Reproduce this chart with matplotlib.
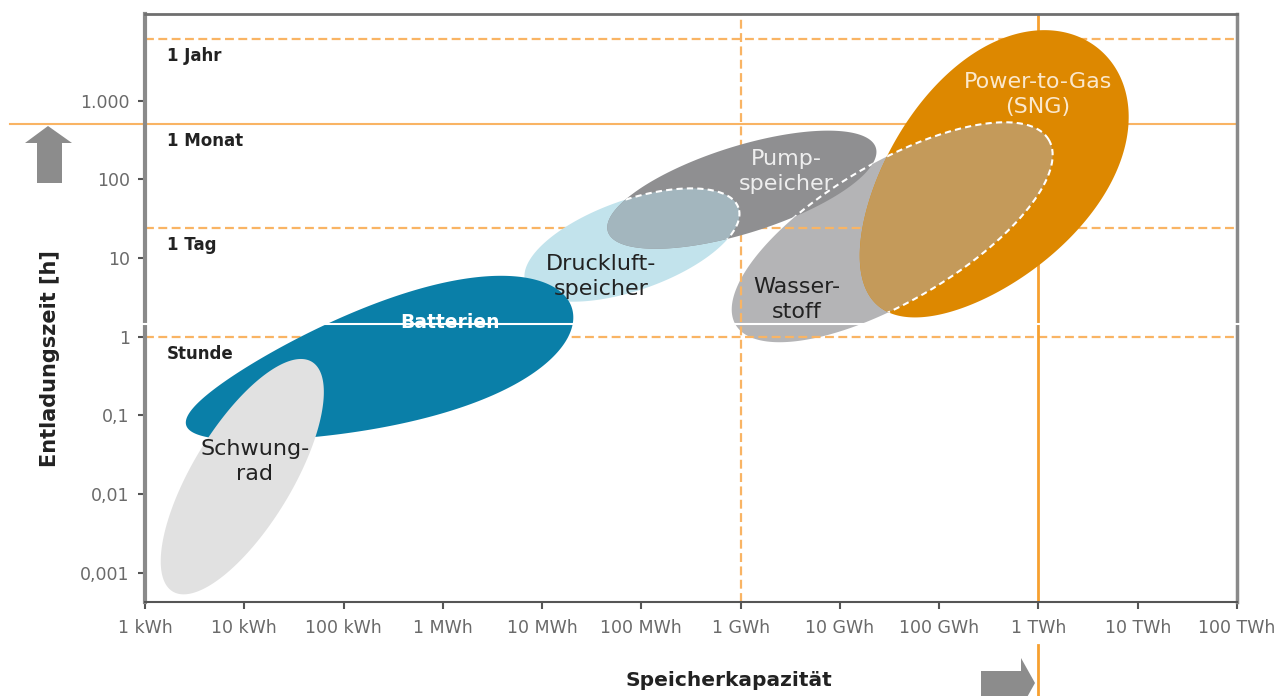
import numpy as np
import matplotlib.pyplot as plt
from matplotlib.patches import Polygon

# Achsen: Speicherkapazität in kWh, Entladungszeit in h
kap_ticks = [1, 1e1, 1e2, 1e3, 1e4, 1e5, 1e6, 1e7, 1e8, 1e9, 1e10, 1e11]
kap_labels = ["1 kWh", "10 kWh", "100 kWh", "1 MWh", "10 MWh", "100 MWh",
              "1 GWh", "10 GWh", "100 GWh", "1 TWh", "10 TWh", "100 TWh"]
zeit_ticks = [0.001, 0.01, 0.1, 1, 10, 100, 1000]
zeit_labels = ["0,001", "0,01", "0,1", "1", "10", "100", "1.000"]

# Zeitmarken (horizontale Hilfslinien)
marken_namen = ["1 Jahr", "1 Monat", "1 Tag", "Stunde"]
marken_h = [6000, 510, 24, 1]
marken_stil = ["--", "-", "--", "--"]

# Speichertechnologien: Hauptachse von (kap_von, h_von) bis (kap_bis, h_bis)
speicher = ["Schwungrad", "Batterien", "Druckluftspeicher",
            "Pumpspeicher", "Wasserstoff", "Power-to-Gas"]
kap_von = [1.9, 2.6, 6.8e3, 4.6e4, 8.9e5, 2.4e7]
kap_bis = [48, 2.0e4, 9.5e5, 2.3e7, 1.27e9, 4.2e9]
h_von = [5.8e-4, 0.075, 4.9, 21.6, 1.42, 2.5]
h_bis = [0.48, 2.3, 43.6, 252, 318, 4370]
breite = [0.37, 0.30, 0.40, 0.31, 0.38, 0.59]
ei = [0.0, 0.3, 0.0, 0.0, 0.0, 0.15]

farben = ["#e1e1e1", "#0a7fa8", "#c2e3ec", "#8f8f91", "#b4b4b6", "#dd8800"]
ebenen = [5, 4, 3, 4, 0.5, 6]

beschriftung = ["Schwung-\nrad", "Batterien", "Druckluft-\nspeicher",
                "Pump-\nspeicher", "Wasser-\nstoff", "Power-to-Gas\n(SNG)"]
text_kap = [12.8, 1190, 3.9e4, 2.9e6, 3.65e6, 9.8e8]
text_h = [0.026, 1.5, 5.8, 125, 2.95, 1190]
text_farbe = ["#222222", "white", "#222222", "#eeeeee", "#222222", "#fbe8cc"]

orange = "#f7a030"
orange_hell = "#f9b464"


def blob(ax, p1, p2, b, e, n=300):
    # Ellipse (leicht eiförmig) in Bildschirmkoordinaten, zurück in Daten
    d1 = ax.transData.transform(p1)
    d2 = ax.transData.transform(p2)
    mitte = (d1 + d2) / 2
    vec = (d2 - d1) / 2
    a = np.hypot(*vec)
    u = vec / a
    v = np.array([-u[1], u[0]])
    t = np.linspace(0, 2 * np.pi, n)
    pts = (mitte + np.outer(a * np.cos(t), u)
           + np.outer(b * a * np.sin(t) * (1 + e * np.cos(t)), v))
    return ax.transData.inverted().transform(pts)


fig = plt.figure(figsize=(12.83, 6.96), dpi=100)
ax = fig.add_axes([145 / 1283, 1 - 602 / 696, 1092 / 1283, 588 / 696])
ax.set_xscale("log")
ax.set_yscale("log")
ax.set_xlim(1, 1e11)
ax.set_ylim(10 ** -3.37, 10 ** 4.10)

ax.set_xticks(kap_ticks)
ax.set_xticklabels(kap_labels)
ax.set_yticks(zeit_ticks)
ax.set_yticklabels(zeit_labels)
ax.minorticks_off()
ax.tick_params(axis="both", direction="out", length=5, width=1.5,
               color="#555555", labelcolor="#6a6a6a", labelsize=12.5)
ax.tick_params(axis="x", pad=7)
ax.tick_params(axis="y", pad=6)

for seite, farbe, lw in [("left", "#8a8a8a", 3), ("top", "#6f6f6f", 2),
                         ("right", "#8a8a8a", 2.5), ("bottom", "#555555", 1.5)]:
    ax.spines[seite].set_color(farbe)
    ax.spines[seite].set_linewidth(lw)

# Hilfslinien
for name, h, stil in zip(marken_namen, marken_h, marken_stil):
    if stil == "-":
        ax.axhline(h, xmin=-0.1236, xmax=1, color=orange_hell, lw=1.5,
                   zorder=1, clip_on=False)
    else:
        ax.axhline(h, color=orange_hell, lw=1.6, ls=(0, (4, 2)), zorder=1)
    ax.annotate(name, (1.67, h), xytext=(0, -17), textcoords="offset pixels",
                fontsize=12, fontweight="bold", color="#222222",
                ha="left", va="center", zorder=2)

ax.axvline(1e6, color=orange_hell, lw=1.6, ls=(0, (4, 2)), zorder=1)
ax.axvline(1e9, color=orange, lw=2, zorder=1)
ax.axvline(1e9, ymin=-0.16, ymax=-0.073, color=orange, lw=2, clip_on=False)

# Speicherflächen
flaechen = {}
umrisse = {}
for i, name in enumerate(speicher):
    pts = blob(ax, (kap_von[i], h_von[i]), (kap_bis[i], h_bis[i]),
               breite[i], ei[i])
    umrisse[name] = pts
    flaechen[name] = ax.fill(pts[:, 0], pts[:, 1], color=farben[i],
                             lw=0, zorder=ebenen[i])[0]

# Überlappung Druckluft / Pumpspeicher
pts = umrisse["Druckluftspeicher"]
p = ax.fill(pts[:, 0], pts[:, 1], color="#a3b6be", lw=0, zorder=4.5)[0]
p.set_clip_path(flaechen["Pumpspeicher"])
ln, = ax.plot(pts[:, 0], pts[:, 1], color="white", lw=1.5,
              ls=(0, (3, 2)), zorder=4.6)
ln.set_clip_path(flaechen["Pumpspeicher"])

# Überlappung Wasserstoff / Power-to-Gas
pts = umrisse["Wasserstoff"]
p = ax.fill(pts[:, 0], pts[:, 1], color="#c49a5a", lw=0, zorder=6.5)[0]
p.set_clip_path(flaechen["Power-to-Gas"])
for clip in ["Power-to-Gas", "Pumpspeicher"]:
    ln, = ax.plot(pts[:, 0], pts[:, 1], color="white", lw=1.5,
                  ls=(0, (3, 2)), zorder=6.6)
    ln.set_clip_path(flaechen[clip])

ax.axhline(1.46, xmin=-0.01, xmax=1.01, color="white", lw=1.5, zorder=9,
           clip_on=False)

for i, txt in enumerate(beschriftung):
    gewicht = "bold" if txt == "Batterien" else "normal"
    groesse = 13.5 if txt == "Batterien" else 16
    ax.text(text_kap[i], text_h[i], txt, color=text_farbe[i], fontsize=groesse,
            fontweight=gewicht, ha="center", va="center", linespacing=1.3,
            zorder=10)

# Achsentitel
fig.text(729 / 1283, 1 - 681 / 696, "Speicherkapazität", fontsize=14.5,
         fontweight="bold", ha="center", va="center", color="#222222")
fig.text(50 / 1283, 1 - 359 / 696, "Entladungszeit [h]", fontsize=15,
         fontweight="bold", ha="center", va="center", rotation=90,
         color="#222222")

# Pfeile (Pixelangaben von oben)
W, H = 1283, 696
pfeil_hoch = [(48, 126), (72, 143), (62, 143), (62, 183), (37, 183), (37, 143), (25, 143)]
pfeil_rechts = [(981, 671), (1021, 671), (1021, 658), (1035, 683), (1021, 708), (1021, 696), (981, 696)]
for pfeil in [pfeil_hoch, pfeil_rechts]:
    xy = [(x / W, 1 - y / H) for x, y in pfeil]
    fig.patches.append(Polygon(xy, closed=True, transform=fig.transFigure,
                               facecolor="#8c8c8c", edgecolor="none"))

fig.savefig("out.png", dpi=100)
